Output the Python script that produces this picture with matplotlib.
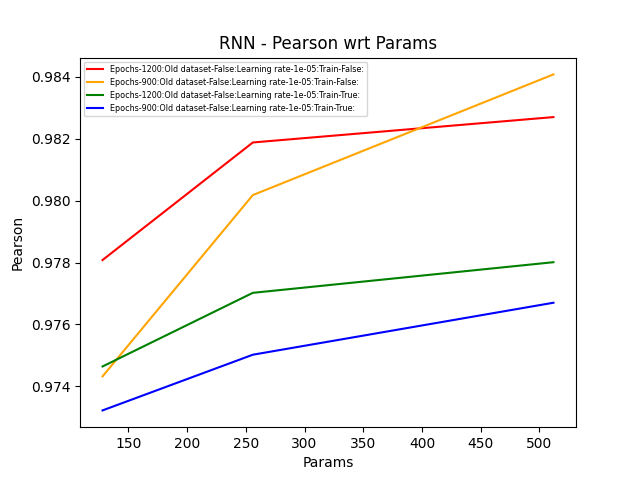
import matplotlib
matplotlib.use('Agg')
import matplotlib.pyplot as plt

# data
params = [128, 256, 512]
labels = [
    "Epochs-1200:Old dataset-False:Learning rate-1e-05:Train-False:",
    "Epochs-900:Old dataset-False:Learning rate-1e-05:Train-False:",
    "Epochs-1200:Old dataset-False:Learning rate-1e-05:Train-True:",
    "Epochs-900:Old dataset-False:Learning rate-1e-05:Train-True:",
]
pearson_e1200_f = [0.97808, 0.98188, 0.98270]
pearson_e900_f = [0.97432, 0.98018, 0.98408]
pearson_e1200_t = [0.97464, 0.97702, 0.97801]
pearson_e900_t = [0.97322, 0.97502, 0.97670]
colors = ['red', 'orange', 'green', 'blue']

fig, ax = plt.subplots(figsize=(6.4, 4.8), dpi=100)
for vals, lab, c in zip([pearson_e1200_f, pearson_e900_f, pearson_e1200_t, pearson_e900_t], labels, colors):
    ax.plot(params, vals, color=c, label=lab)

ax.set_xlabel("Params")
ax.set_ylabel("Pearson")
ax.set_title("RNN - Pearson wrt Params")
ax.legend(fontsize='xx-small')
fig.savefig("out.png")
